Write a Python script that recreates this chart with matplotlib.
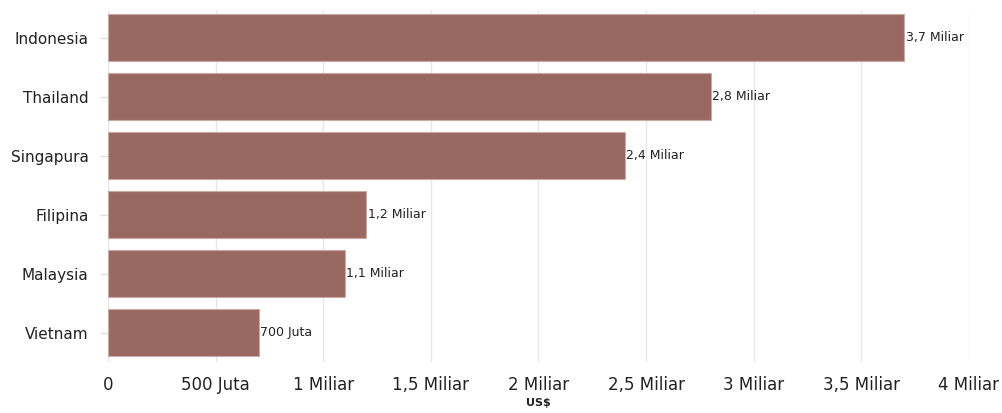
import matplotlib
matplotlib.use("Agg")
from matplotlib import pyplot as plt

countries = ["Indonesia", "Thailand", "Singapura", "Filipina", "Malaysia", "Vietnam"]
values = [3.7, 2.8, 2.4, 1.2, 1.1, 0.7]  # miliar US$
bar_labels = ["3,7 Miliar", "2,8 Miliar", "2,4 Miliar", "1,2 Miliar", "1,1 Miliar", "700 Juta"]
xticks = [0, 0.5, 1, 1.5, 2, 2.5, 3, 3.5, 4]
xtick_labels = ["0", "500 Juta", "1 Miliar", "1,5 Miliar", "2 Miliar", "2,5 Miliar",
                "3 Miliar", "3,5 Miliar", "4 Miliar"]

plt.rcParams["font.family"] = ["DejaVu Sans"]

fig = plt.figure(figsize=(10.02, 4.13), dpi=100)
ax = fig.add_axes([0.1078, 0.1235, 0.967 - 0.1078, 0.976 - 0.1235])

ypos = list(range(len(countries)))
ax.barh(ypos, values, height=0.8, color="#996860", edgecolor="#c9aaa5", linewidth=0.8, zorder=2)

for y, v, t in zip(ypos, values, bar_labels):
    ax.text(v + 0.008, y, t, va="center", ha="left", fontsize=9, color="#222222", zorder=3)

ax.set_xlim(0, 4)
ax.set_ylim(len(countries) - 0.5, -0.47)
ax.set_xticks(xticks)
ax.set_xticklabels(xtick_labels, fontsize=12, color="#222222")
ax.set_yticks(ypos)
ax.set_yticklabels(countries, fontsize=11, color="#222222")

ax.grid(axis="x", color="#e6e6e6", linewidth=1, zorder=0)
for s in ax.spines.values():
    s.set_visible(False)
ax.tick_params(axis="x", length=0, pad=10)
ax.tick_params(axis="y", length=6, width=1, color="#dddddd", pad=8)

ax.set_xlabel("US$", fontsize=8, fontweight="bold", color="#222222", labelpad=3)

fig.savefig("out.png", dpi=100)
